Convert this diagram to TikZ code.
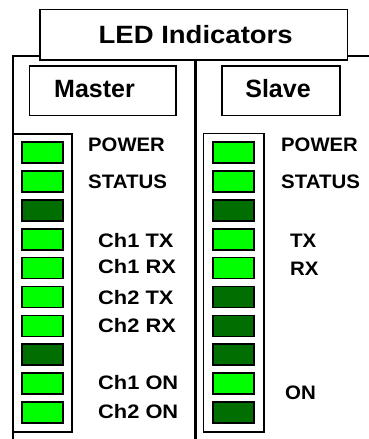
\documentclass[tikz,border=0pt]{standalone}
\usepackage{fontspec}
\setmainfont{Liberation Sans}
\definecolor{ledon}{RGB}{0,255,0}
\definecolor{ledoff}{RGB}{0,110,0}
\begin{document}
\begin{tikzpicture}[x=1pt,y=-1pt,
  box/.style={draw=black,line width=1.8pt,fill=white},
  lbl/.style={anchor=west,inner sep=0pt,font=\bfseries\fontsize{19.5}{19.5}\selectfont},
  hdr/.style={inner sep=0pt,font=\bfseries\fontsize{25}{25}\selectfont},
  ledA/.style={draw=black,line width=1.7pt,fill=ledon,minimum width=41pt,minimum height=21pt,inner sep=0pt},
  ledB/.style={ledA,fill=ledoff}]
\useasboundingbox (0,0) rectangle (369,439);
% outer lines
\draw[line width=2pt] (12.5,439) -- (12.5,55.5) -- (40,55.5);
\draw[line width=2pt] (347.5,55.5) -- (369,55.5);
\draw[line width=3pt] (195,60) -- (195,439);
% title
\draw[box] (40,9.5) rectangle (347.5,60);
\node[hdr] (title) at (195.7,34.5) {\scalebox{1.1}[1]{LED Indicators}};
% master/slave boxes
\draw[box] (29.5,66) rectangle (176,115.5);
\node[hdr] (master) at (94.5,89) {Master};
\draw[box] (222,66) rectangle (340,115.5);
\node[hdr] (slave) at (278,89) {Slave};
% frames
\draw[line width=1.8pt] (12.5,134) rectangle (72,432);
\draw[line width=1.8pt] (203.5,133.5) rectangle (264,432);
% LEDs
\foreach \s [count=\i from 0] in {A,A,B,A,A,A,A,B,A,A}
  \node[led\s] (m\i) at (42.5,{152.5+28.9*\i}) {};
\foreach \s [count=\i from 0] in {A,A,B,A,A,B,B,B,A,B}
  \node[led\s] (s\i) at (233.5,{152.5+28.9*\i}) {};
% master labels
\node[lbl] (mpow) at (88,145) {\scalebox{1.04}[1]{POWER}};
\node[lbl] (msta) at (88,182) {\scalebox{1.05}[1]{STATUS}};
\node[lbl] (m1tx) at (98,241) {\scalebox{1.12}[1]{Ch1 TX}};
\node[lbl] (m1rx) at (98,267) {\scalebox{1.12}[1]{Ch1 RX}};
\node[lbl] (m2tx) at (98,298) {\scalebox{1.12}[1]{Ch2 TX}};
\node[lbl] (m2rx) at (98,326) {\scalebox{1.12}[1]{Ch2 RX}};
\node[lbl] (m1on) at (98,383) {\scalebox{1.12}[1]{Ch1 ON}};
\node[lbl] (m2on) at (98,412) {\scalebox{1.12}[1]{Ch2 ON}};
% slave labels
\node[lbl] (spow) at (281,145) {\scalebox{1.04}[1]{POWER}};
\node[lbl] (ssta) at (281,182) {\scalebox{1.05}[1]{STATUS}};
\node[lbl] (stx) at (290,241) {\scalebox{1.05}[1]{TX}};
\node[lbl] (srx) at (290,269) {\scalebox{1.05}[1]{RX}};
\node[lbl] (son) at (285,393) {\scalebox{1.05}[1]{ON}};
\end{tikzpicture}
\end{document}
